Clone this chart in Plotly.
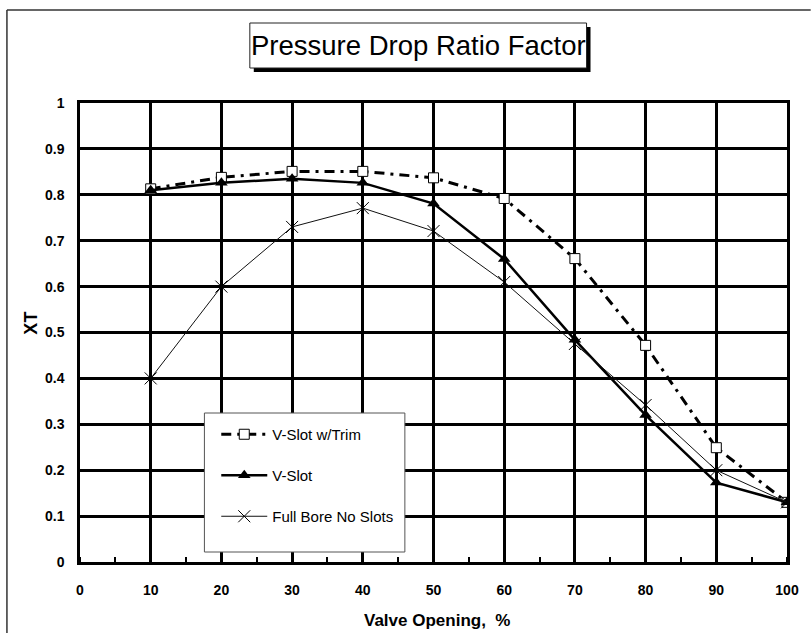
import plotly.graph_objects as go

opening = [10, 20, 30, 40, 50, 60, 70, 80, 90, 100]
vslot_trim = [0.813, 0.838, 0.851, 0.851, 0.837, 0.792, 0.661, 0.472, 0.249, 0.130]
vslot = [0.810, 0.826, 0.835, 0.826, 0.781, 0.660, 0.484, 0.320, 0.173, 0.130]
full_bore = [0.400, 0.600, 0.730, 0.771, 0.721, 0.610, 0.475, 0.342, 0.200, 0.130]

x_ticks = list(range(0, 101, 10))
y_ticks = [0, 0.1, 0.2, 0.3, 0.4, 0.5, 0.6, 0.7, 0.8, 0.9, 1]
y_tick_text = ["0", "0.1", "0.2", "0.3", "0.4", "0.5", "0.6", "0.7", "0.8", "0.9", "1"]

W, H = 811, 633
L, R, T, B = 80, 15, 103, 71
PW, PH = W - L - R, H - T - B


def px(x):
    return (x - L) / PW


def py(y):
    return (H - B - y) / PH


FONT = "Liberation Sans, Arial, sans-serif"

fig = go.Figure()
fig.add_trace(go.Scatter(
    x=opening, y=vslot_trim, name="V-Slot w/Trim", mode="lines+markers",
    line=dict(color="black", width=3, dash="10px,6px,3px,6px"),
    marker=dict(symbol="square", size=10, color="white", line=dict(color="black", width=1)),
    legendgroup="a"))
fig.add_trace(go.Scatter(
    x=opening, y=vslot, name="V-Slot", mode="lines+markers",
    line=dict(color="black", width=2.5),
    marker=dict(symbol="triangle-up", size=11, color="black"),
    legendgroup="b"))
fig.add_trace(go.Scatter(
    x=opening, y=full_bore, name="Full Bore No Slots", mode="lines+markers",
    line=dict(color="#111", width=1),
    marker=dict(symbol="x-thin-open", size=12, color="black", line=dict(color="#111", width=1)),
    legendgroup="c"))

shapes = [
    # outer chart frame
    dict(type="line", xref="paper", yref="paper", x0=px(6), x1=px(6), y0=py(10), y1=py(700),
         line=dict(color="#333", width=1.5), layer="above"),
    dict(type="line", xref="paper", yref="paper", x0=px(6), x1=px(820), y0=py(10), y1=py(10),
         line=dict(color="#333", width=1.5), layer="above"),
    # title shadow and box
    dict(type="rect", xref="paper", yref="paper", x0=px(256), x1=px(597), y0=py(72), y1=py(27),
         fillcolor="black", line=dict(width=0), layer="above"),
    dict(type="rect", xref="paper", yref="paper", x0=px(252), x1=px(593), y0=py(68), y1=py(23),
         fillcolor="white", line=dict(color="#222", width=1), layer="above"),
    # legend box
    dict(type="rect", xref="paper", yref="paper", x0=px(206), x1=px(409), y0=py(552), y1=py(413),
         fillcolor="white", line=dict(color="#555", width=1), layer="above"),
]

annotations = [
    dict(text="Pressure Drop Ratio Factor", xref="paper", yref="paper", x=px(422.5), y=py(45.5),
         showarrow=False, font=dict(family=FONT, size=27.5, color="black"), xanchor="center", yanchor="middle"),
    dict(text="<b>XT</b>", xref="paper", yref="paper", x=px(30), y=py(323), textangle=-90,
         showarrow=False, font=dict(family=FONT, size=18, color="black"), xanchor="center", yanchor="middle"),
    dict(text="<b>Valve Opening,  %</b>", xref="paper", yref="paper", x=px(442), y=py(620),
         showarrow=False, font=dict(family=FONT, size=17, color="black"), xanchor="center", yanchor="middle"),
]

fig.update_layout(
    width=W, height=H,
    margin=dict(l=L, r=R, t=T, b=B, pad=0),
    paper_bgcolor="white", plot_bgcolor="white",
    font=dict(family=FONT, color="black"),
    shapes=shapes, annotations=annotations,
    showlegend=True,
    legend=dict(x=px(218), y=py(418), xanchor="left", yanchor="top",
                bgcolor="rgba(0,0,0,0)", borderwidth=0,
                font=dict(family=FONT, size=15, color="black"),
                traceorder="grouped", tracegroupgap=18.5, itemwidth=46),
    xaxis=dict(range=[0, 100], tickvals=x_ticks, ticktext=[str(v) for v in x_ticks],
               showgrid=True, gridcolor="black", gridwidth=2.5,
               showline=True, linecolor="black", linewidth=2.5, mirror=True,
               zeroline=False, ticks="",
               minor=dict(ticks="inside", ticklen=5, tickwidth=1.5, tickcolor="black", dtick=5, tick0=0, showgrid=False),
               tickfont=dict(family=FONT, size=14, color="black", weight="bold"),
               ticklabelstandoff=13, fixedrange=True),
    yaxis=dict(range=[0, 1], tickvals=y_ticks, ticktext=y_tick_text,
               showgrid=True, gridcolor="black", gridwidth=2.5,
               showline=True, linecolor="black", linewidth=2.5, mirror=True,
               zeroline=False, ticks="",
               tickfont=dict(family=FONT, size=14, color="black", weight="bold"),
               ticklabelstandoff=10, fixedrange=True),
)

fig.write_html("out.html")
